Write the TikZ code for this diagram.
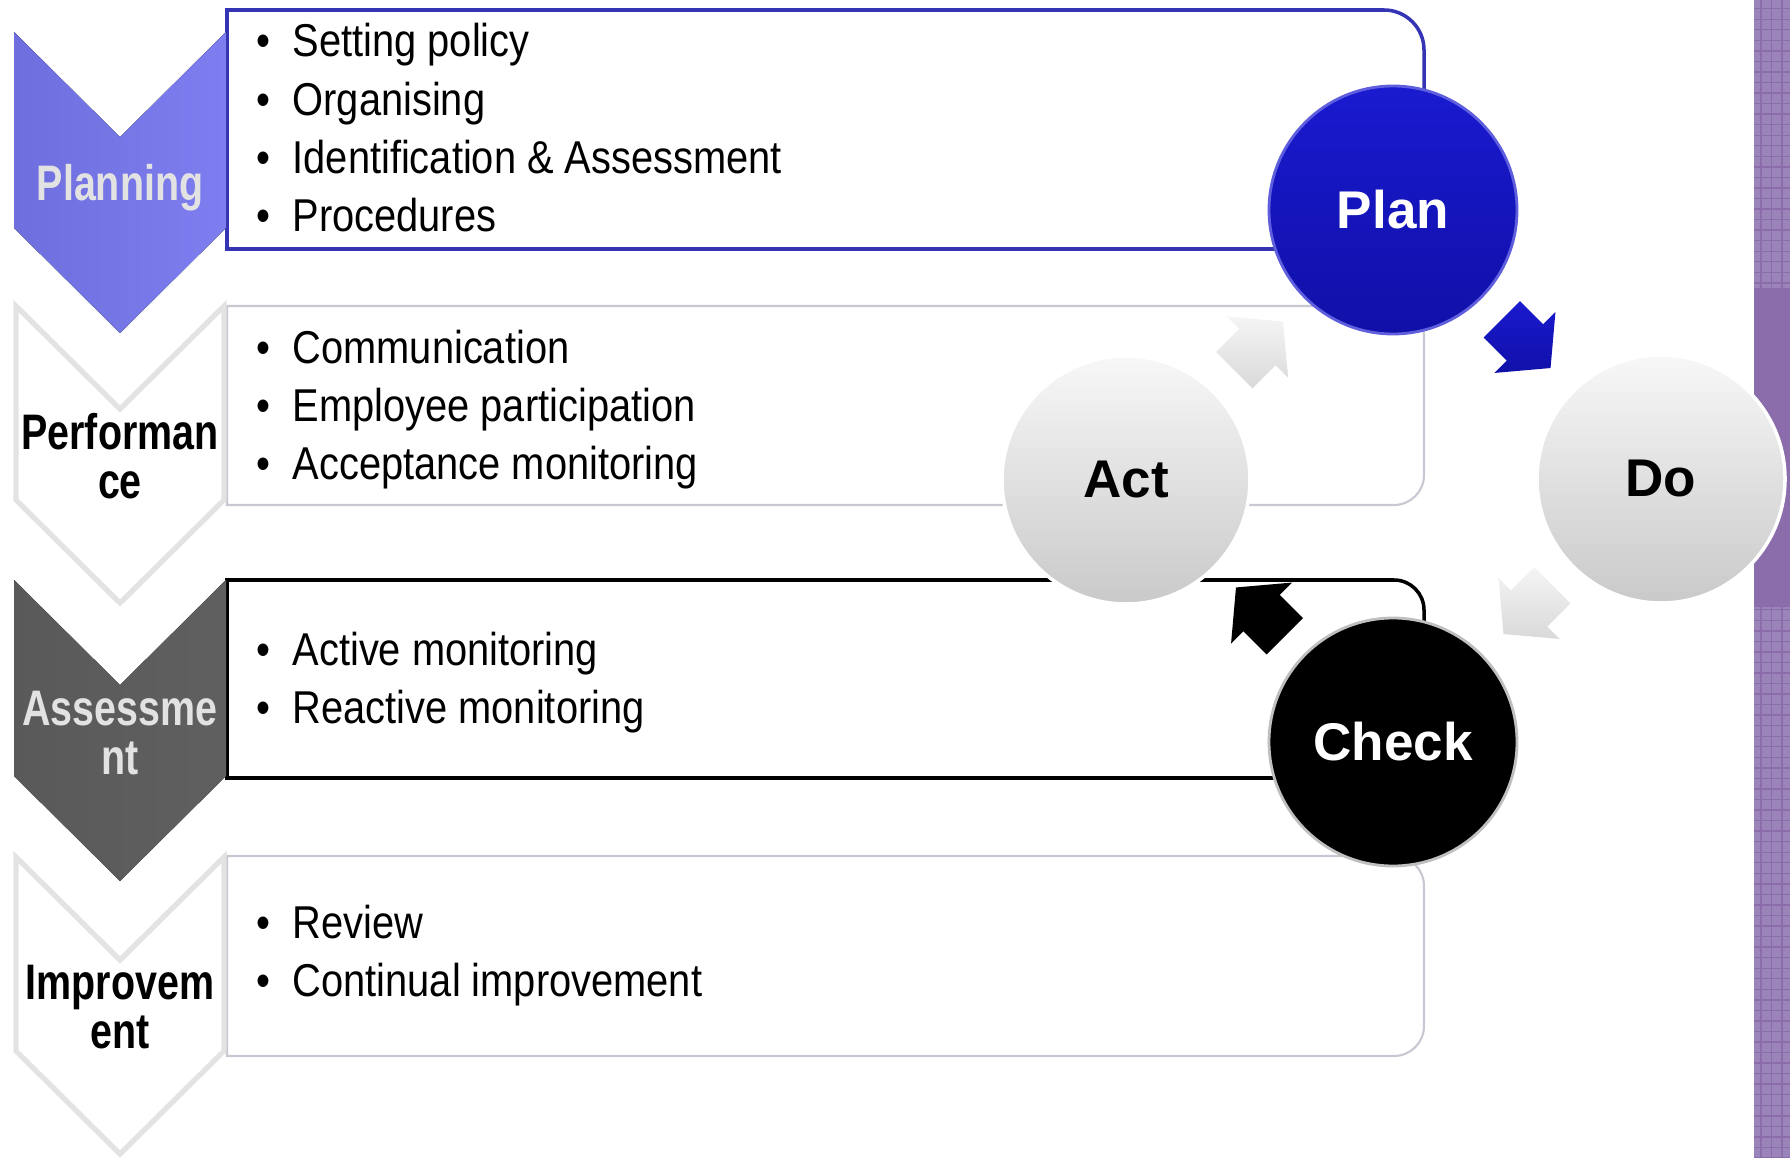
\documentclass[tikz,border=0pt]{standalone}
\usepackage{fontspec}
\setmainfont{Liberation Sans}
\newfontfamily\narrowfont[FakeStretch=0.865]{Liberation Sans}
\newfontfamily\narrowboldfont[FakeStretch=0.79]{Liberation Sans Bold}
\usetikzlibrary{shapes.arrows,calc,patterns}
\definecolor{planblue}{HTML}{1A1AD0}
\definecolor{planbluedark}{HTML}{1010A8}
\definecolor{chevblue}{HTML}{6E6EDE}
\definecolor{chevbluelight}{HTML}{7E7EF0}
\definecolor{boxblue}{HTML}{3434B4}
\definecolor{boxgrey}{HTML}{C8C8D2}
\definecolor{stripdark}{HTML}{8B6DAB}
\definecolor{striplight}{HTML}{9A84BA}
\definecolor{labelgrey}{HTML}{E2E2E2}
\newcommand\boxfont{\narrowfont\fontsize{13.1pt}{16.5pt}\selectfont}
\newcommand\chevfont{\narrowboldfont\fontsize{14.2pt}{13.8pt}\selectfont}
\newcommand\cyclefont{\fontsize{15.1pt}{18pt}\selectfont\bfseries}
\tikzset{item/.style={anchor=base west,inner sep=0pt,font=\boxfont}}
\tikzset{chevlabel/.style={inner sep=0pt,align=center,font=\chevfont}}
\tikzset{cyclenode/.style={circle,inner sep=0pt,minimum size=2.48cm,font=\cyclefont}}
\tikzset{greyball/.style={top color=gray!6,bottom color=gray!42,draw=white,line width=1pt}}
\tikzset{cyclearrow/.style={single arrow,inner sep=0pt,text height=5mm,text depth=0pt,
  single arrow head extend=1.75mm,single arrow tip angle=100,minimum height=6.9mm}}
\newcommand\bul{\makebox[3.6mm][l]{\textbullet}}

\begin{document}
\begin{tikzpicture}
  \useasboundingbox (0,0) rectangle (17.9,-11.58);
  % strip on the right
  \fill[stripdark] (17.54,0) rectangle (17.9,-11.58);
  \fill[striplight] (17.54,0) rectangle (17.9,-2.88);
  \fill[striplight] (17.54,-6.07) rectangle (17.9,-11.58);
  \fill[pattern=grid,pattern color=stripdark] (17.54,0) rectangle (17.9,-2.88);
  \fill[pattern=grid,pattern color=stripdark] (17.54,-6.07) rectangle (17.9,-11.58);
  % boxes
  \draw[boxblue,line width=1pt,fill=white] (2.27,-0.10) -- (13.84,-0.10) arc (90:0:0.4) -- (14.24,-2.09) arc (0:-90:0.4) -- (2.27,-2.49) -- cycle;
  \draw[boxgrey,line width=0.6pt,fill=white] (2.27,-3.06) -- (13.94,-3.06) arc (90:0:0.3) -- (14.24,-4.75) arc (0:-90:0.3) -- (2.27,-5.05) -- cycle;
  \draw[black,line width=1pt,fill=white] (2.27,-5.80) -- (13.94,-5.80) arc (90:0:0.3) -- (14.24,-7.48) arc (0:-90:0.3) -- (2.27,-7.78) -- cycle;
  \draw[boxgrey,line width=0.6pt,fill=white] (2.27,-8.56) -- (13.94,-8.56) arc (90:0:0.3) -- (14.24,-10.26) arc (0:-90:0.3) -- (2.27,-10.56) -- cycle;
  % chevrons
  \fill[left color=chevblue,right color=chevbluelight] (0.14,-0.32) -- (1.20,-1.37) -- (2.26,-0.32) -- (2.26,-2.28) -- (1.20,-3.33) -- (0.14,-2.28) -- cycle;
  \draw[gray!22,line width=1.5pt,fill=white] (0.16,-3.06) -- (1.20,-4.09) -- (2.24,-3.06) -- (2.24,-5.00) -- (1.20,-6.03) -- (0.16,-5.00) -- cycle;
  \fill[left color=gray!70!black,right color=gray!75!black] (0.14,-5.80) -- (1.20,-6.85) -- (2.26,-5.80) -- (2.26,-7.76) -- (1.20,-8.81) -- (0.14,-7.76) -- cycle;
  \draw[gray!22,line width=1.5pt,fill=white] (0.16,-8.57) -- (1.20,-9.60) -- (2.24,-8.57) -- (2.24,-10.51) -- (1.20,-11.54) -- (0.16,-10.51) -- cycle;
  \node[chevlabel,labelgrey,anchor=base] (planning) at (1.20,-2.01) {Planning};
  \node[chevlabel] (performance) at (1.20,-4.56) {Performan\\ce};
  \node[chevlabel,labelgrey] (assessment) at (1.20,-7.33) {Assessme\\nt};
  \node[chevlabel] (improvement) at (1.20,-10.07) {Improvem\\ent};
  % list items
  \node[item] (policy) at (2.56,-0.57) {\bul Setting policy};
  \node[item] (organising) at (2.56,-1.155) {\bul Organising};
  \node[item] (identification) at (2.56,-1.735) {\bul Identification \& Assessment};
  \node[item] (procedures) at (2.56,-2.315) {\bul Procedures};
  \node[item] (communication) at (2.56,-3.635) {\bul Communication};
  \node[item] (participation) at (2.56,-4.215) {\bul Employee participation};
  \node[item] (acceptance) at (2.56,-4.795) {\bul Acceptance monitoring};
  \node[item] (active) at (2.56,-6.655) {\bul Active monitoring};
  \node[item] (reactive) at (2.56,-7.235) {\bul Reactive monitoring};
  \node[item] (review) at (2.56,-9.385) {\bul Review};
  \node[item] (continual) at (2.56,-9.965) {\bul Continual improvement};
  % cycle
  \node[cyclenode,top color=planblue,bottom color=planbluedark,draw=planblue!70!white,line width=0.8pt,text=white] (plan) at (13.93,-2.10) {Plan};
  \node[cyclenode,greyball] (do) at (16.61,-4.79) {Do};
  \node[cyclenode,fill=black,draw=gray!50,line width=0.8pt,text=white] (check) at (13.93,-7.42) {Check};
  \node[cyclenode,greyball] (act) at (11.26,-4.80) {Act};
  \node[cyclearrow,top color=planblue,bottom color=planbluedark,rotate=-45,xshift=-1.2mm] (plando) at ($(plan)!0.5!(do)$) {};
  \node[cyclearrow,top color=gray!8,bottom color=gray!30,rotate=-135,xshift=-1.2mm] (docheck) at ($(do)!0.5!(check)$) {};
  \node[cyclearrow,fill=black,rotate=135,xshift=-1.2mm] (checkact) at ($(check)!0.5!(act)$) {};
  \node[cyclearrow,top color=gray!8,bottom color=gray!30,rotate=45,xshift=-1.2mm] (actplan) at ($(act)!0.5!(plan)$) {};
\end{tikzpicture}
\end{document}
